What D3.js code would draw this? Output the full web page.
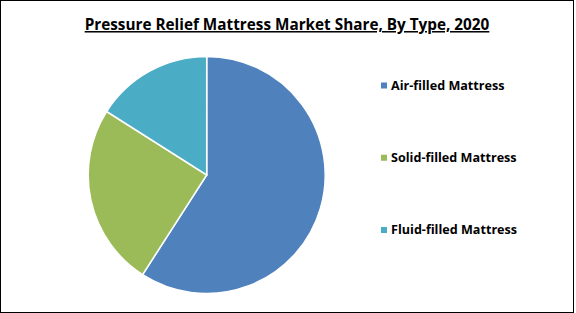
<!DOCTYPE html>
<html>
<head>
<meta charset="utf-8">
<script src="https://cdn.jsdelivr.net/npm/d3@7"></script>
<style>
  body { margin: 0; background: #fff; }
  svg { display: block; font-family: "Open Sans", "DejaVu Sans", sans-serif; }
</style>
</head>
<body>
<div id="chart"></div>
<script>
// market share by type, 2020
let categories = ["Air-filled Mattress", "Solid-filled Mattress", "Fluid-filled Mattress"];
let shares = [59.1, 24.9, 16.0];
let colors = ["#4F81BD", "#9BBB59", "#4BACC6"];
let title = "Pressure Relief Mattress Market Share, By Type, 2020";

let width = 576, height = 313;

let svg = d3.select("#chart")
  .append("svg")
  .attr("width", width)
  .attr("height", height);

// outer frame
svg.append("rect")
  .attr("x", 0.5).attr("y", 0.5)
  .attr("width", width - 3).attr("height", height - 1)
  .attr("fill", "#fff")
  .attr("stroke", "#000")
  .attr("stroke-width", 1);

// title, bold and underlined
svg.append("text")
  .attr("x", 287)
  .attr("y", 30)
  .attr("text-anchor", "middle")
  .attr("font-size", 15.3)
  .attr("font-weight", "bold")
  .attr("text-decoration", "underline")
  .attr("fill", "#000")
  .text(title);

// pie
let data = categories.map((c, i) => ({name: c, value: shares[i], color: colors[i]}));
let pie = d3.pie().value(d => d.value).sort(null);
let arc = d3.arc().innerRadius(0).outerRadius(118.5);

svg.append("g")
  .attr("transform", "translate(206.7,175)")
  .selectAll("path")
  .data(pie(data))
  .enter()
  .append("path")
  .attr("d", arc)
  .attr("fill", d => d.data.color)
  .attr("stroke", "#fff")
  .attr("stroke-width", 1.5);

// legend
let legendY = d3.scalePoint().domain(categories).range([85.5, 230]);

let legend = svg.append("g")
  .selectAll("g")
  .data(data)
  .enter()
  .append("g")
  .attr("transform", d => `translate(381,${legendY(d.name)})`);

legend.append("rect")
  .attr("x", 0).attr("y", -3)
  .attr("width", 6).attr("height", 6)
  .attr("fill", d => d.color);

legend.append("text")
  .attr("x", 10)
  .attr("y", 0)
  .attr("dy", "0.35em")
  .attr("font-size", 12.6)
  .attr("font-weight", "bold")
  .attr("fill", "#000")
  .text(d => d.name);
</script>
</body>
</html>
